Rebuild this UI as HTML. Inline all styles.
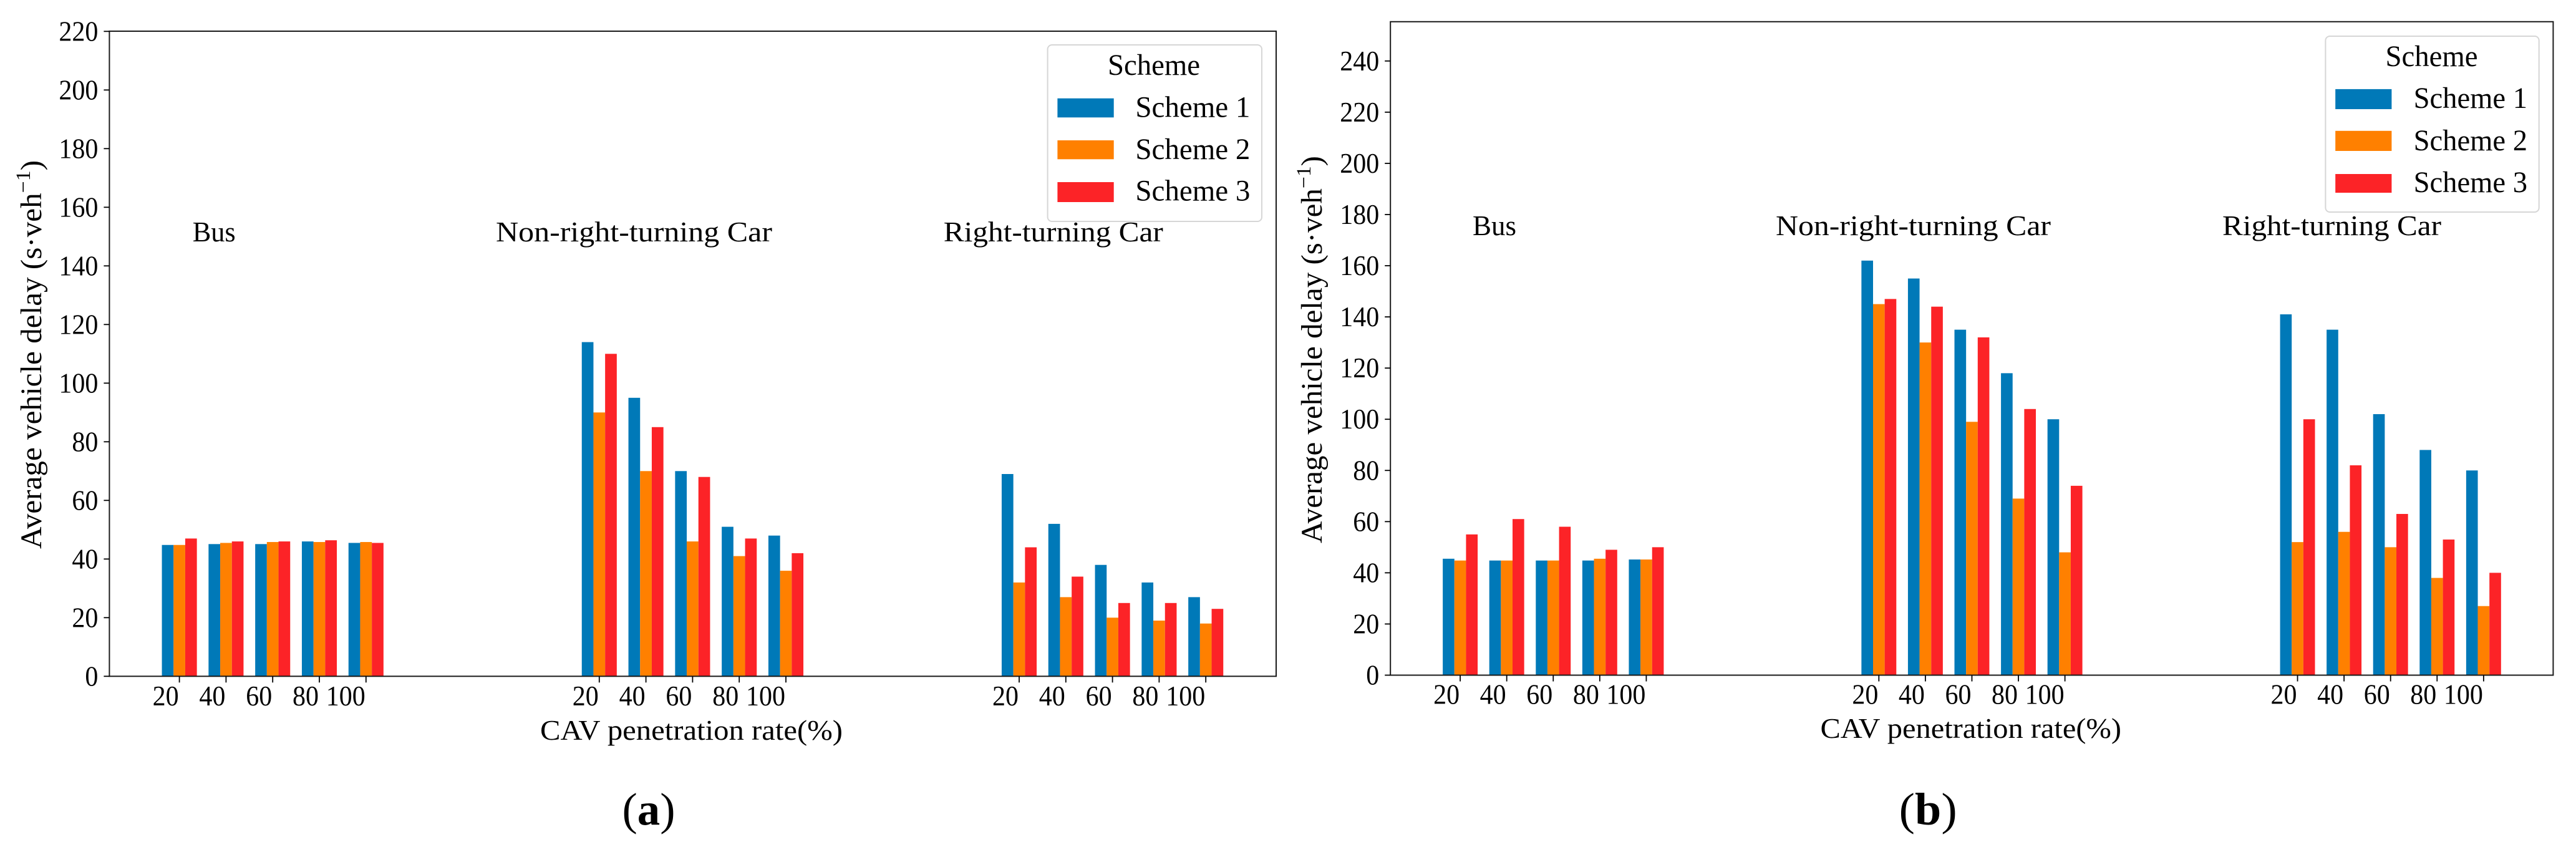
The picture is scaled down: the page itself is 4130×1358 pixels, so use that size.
<!DOCTYPE html>
<html lang="en">
<head>
<meta charset="utf-8">
<title>Average vehicle delay by scheme</title>
<style>
html,body{margin:0;padding:0;background:#fff;width:4130px;height:1358px;overflow:hidden}
svg{display:block}
text{font-family:"Liberation Serif",serif;fill:#000}
</style>
</head>
<body>
<svg id="figure" xmlns="http://www.w3.org/2000/svg" width="4130" height="1358" viewBox="0 0 4130 1358">
  <rect x="0" y="0" width="4130" height="1358" fill="#ffffff"/>

  <g id="panel-a">
    <g id="panel-a-bars"></g>
    <g id="panel-a-axes"></g>
    <text x="308.7" y="387" font-size="46" textLength="69" lengthAdjust="spacingAndGlyphs">Bus</text>
    <text x="795" y="387" font-size="46" textLength="443" lengthAdjust="spacingAndGlyphs">Non-right-turning Car</text>
    <text x="1512.8" y="387" font-size="46" textLength="352" lengthAdjust="spacingAndGlyphs">Right-turning Car</text>
    <text x="866" y="1186" font-size="46" textLength="485" lengthAdjust="spacingAndGlyphs">CAV penetration rate(%)</text>
    <text transform="translate(66 880) rotate(-90)" font-size="48" textLength="623" lengthAdjust="spacingAndGlyphs">Average vehicle delay (s·veh<tspan dy="-18" font-size="33">−1</tspan><tspan dy="18">)</tspan></text>
    <g>
      <rect x="1679.6" y="72" width="343.4" height="283" rx="7" ry="7" fill="#ffffff" fill-opacity="0.8" stroke="#d6d6d6" stroke-width="2"/>
      <text x="1850" y="120" font-size="48" text-anchor="middle" textLength="148" lengthAdjust="spacingAndGlyphs">Scheme</text>
      <rect x="1695.4" y="157.7" width="90.3" height="30.6" fill="#0079b8"/>
      <text x="1820.4" y="187.7" font-size="48" textLength="184" lengthAdjust="spacingAndGlyphs">Scheme 1</text>
      <rect x="1695.4" y="225" width="90.3" height="30.3" fill="#ff8000"/>
      <text x="1820.4" y="255" font-size="48" textLength="184" lengthAdjust="spacingAndGlyphs">Scheme 2</text>
      <rect x="1695.4" y="292" width="90.3" height="32" fill="#fc2327"/>
      <text x="1820.4" y="321.7" font-size="48" textLength="184" lengthAdjust="spacingAndGlyphs">Scheme 3</text>
    </g>
    <text x="997.5" y="1322" font-size="73" textLength="85" lengthAdjust="spacingAndGlyphs">(<tspan font-weight="bold">a</tspan>)</text>
  </g>

  <g id="panel-b">
    <g id="panel-b-bars"></g>
    <g id="panel-b-axes"></g>
    <text x="2361" y="377" font-size="46" textLength="70" lengthAdjust="spacingAndGlyphs">Bus</text>
    <text x="2847" y="377" font-size="46" textLength="441" lengthAdjust="spacingAndGlyphs">Non-right-turning Car</text>
    <text x="3563" y="377" font-size="46" textLength="351" lengthAdjust="spacingAndGlyphs">Right-turning Car</text>
    <text x="2918.5" y="1183" font-size="46" textLength="482.5" lengthAdjust="spacingAndGlyphs">CAV penetration rate(%)</text>
    <text transform="translate(2119 871) rotate(-90)" font-size="48" textLength="621" lengthAdjust="spacingAndGlyphs">Average vehicle delay (s·veh<tspan dy="-18" font-size="33">−1</tspan><tspan dy="18">)</tspan></text>
    <g>
      <rect x="3728.4" y="58" width="342.3" height="282" rx="7" ry="7" fill="#ffffff" fill-opacity="0.8" stroke="#d6d6d6" stroke-width="2"/>
      <text x="3898.5" y="106" font-size="48" text-anchor="middle" textLength="148" lengthAdjust="spacingAndGlyphs">Scheme</text>
      <rect x="3744.2" y="142.9" width="90.2" height="32.1" fill="#0079b8"/>
      <text x="3869.6" y="173" font-size="48" textLength="182.4" lengthAdjust="spacingAndGlyphs">Scheme 1</text>
      <rect x="3744.2" y="209.8" width="90.2" height="32.2" fill="#ff8000"/>
      <text x="3869.6" y="241" font-size="48" textLength="182.4" lengthAdjust="spacingAndGlyphs">Scheme 2</text>
      <rect x="3744.2" y="279" width="90.2" height="30" fill="#fc2327"/>
      <text x="3869.6" y="308" font-size="48" textLength="182.4" lengthAdjust="spacingAndGlyphs">Scheme 3</text>
    </g>
    <text x="3044.7" y="1322" font-size="73" textLength="93" lengthAdjust="spacingAndGlyphs">(<tspan font-weight="bold">b</tspan>)</text>
  </g>
</svg>

<script>
// ---- Chart data ----
var penetrationRates = ['20', '40', '60', '80', '100'];
var vehicleGroups = ['bus', 'non-right-turning-car', 'right-turning-car'];
var schemeNames = ['scheme-1', 'scheme-2', 'scheme-3'];
var schemeColors = ['#0079b8', '#ff8000', '#fc2327'];

var panelAYTicks = [0, 20, 40, 60, 80, 100, 120, 140, 160, 180, 200, 220];
var panelAScheme1 = [44.8, 45.1, 45.1, 46, 45.5, 114, 95, 70, 51, 48, 69, 52, 38, 32, 27];
var panelAScheme2 = [44.8, 45.5, 45.8, 45.8, 45.8, 90, 70, 46, 41, 36, 32, 27, 20, 19, 18];
var panelAScheme3 = [47, 46, 46, 46.4, 45.5, 110, 85, 68, 47, 42, 44, 34, 25, 25, 23];

var panelBYTicks = [0, 20, 40, 60, 80, 100, 120, 140, 160, 180, 200, 220, 240];
var panelBScheme1 = [45.5, 44.8, 44.8, 44.8, 45.2, 162, 155, 135, 118, 100, 141, 135, 102, 88, 80];
var panelBScheme2 = [44.8, 44.8, 44.8, 45.5, 45.2, 145, 130, 99, 69, 48, 52, 56, 50, 38, 27];
var panelBScheme3 = [55, 61, 58, 49, 50, 147, 144, 132, 104, 74, 100, 82, 63, 53, 40];

// ---- Layout ----
var SVG_NS = 'http://www.w3.org/2000/svg';
var GROUP_GAP = 4; // empty category slots between vehicle groups
var BAR_FRACTION = 0.25;
var TICK_FONT_SIZE = 45;
var TICK_DIGIT_WIDTH = 21;

var panelALayout = { prefix: 'panel-a', left: 175.4, right: 2046, top: 50, bottom: 1084.3, unit: 4.70, firstTick: 287.6, step: 74.8, tickLabelBaseline: 1130.8 };
var panelBLayout = { prefix: 'panel-b', left: 2229.2, right: 4093.4, top: 34.8, bottom: 1082.5, unit: 4.103, firstTick: 2341.1, step: 74.58, tickLabelBaseline: 1128.5 };

function makeScaleY(layout) {
  return function (value) { return layout.bottom - value * layout.unit; };
}
function makeScaleX(layout) {
  return function (groupIndex, rateIndex) {
    var slot = groupIndex * (penetrationRates.length + GROUP_GAP) + rateIndex;
    return layout.firstTick + slot * layout.step;
  };
}
function svgEl(tag) {
  return document.createElementNS(SVG_NS, tag);
}
function setLine(line, x1, y1, x2, y2, width) {
  line.setAttribute('x1', x1);
  line.setAttribute('y1', y1);
  line.setAttribute('x2', x2);
  line.setAttribute('y2', y2);
  line.setAttribute('stroke', '#000000');
  line.setAttribute('stroke-width', width);
}
function styleTickLabel(label, text) {
  label.setAttribute('font-size', TICK_FONT_SIZE);
  label.setAttribute('text-anchor', 'end');
  label.setAttribute('textLength', text.length * TICK_DIGIT_WIDTH);
  label.setAttribute('lengthAdjust', 'spacingAndGlyphs');
  label.textContent = text;
}

function drawBars(layout, seriesList) {
  var host = document.getElementById(layout.prefix + '-bars');
  var scaleX = makeScaleX(layout);
  var scaleY = makeScaleY(layout);
  var barWidth = layout.step * BAR_FRACTION;
  seriesList.forEach(function (values, seriesIndex) {
    values.forEach(function (value, i) {
      var groupIndex = Math.floor(i / penetrationRates.length);
      var rateIndex = i % penetrationRates.length;
      var center = scaleX(groupIndex, rateIndex);
      var bar = svgEl('rect');
      
      
      bar.setAttribute('x', center + (seriesIndex - 1.5) * barWidth);
      bar.setAttribute('y', scaleY(value));
      bar.setAttribute('width', barWidth);
      bar.setAttribute('height', layout.bottom - scaleY(value));
      bar.setAttribute('fill', schemeColors[seriesIndex]);
      host.appendChild(bar);
    });
  });
}

function drawAxes(layout, yTicks) {
  var host = document.getElementById(layout.prefix + '-axes');
  var scaleX = makeScaleX(layout);
  var scaleY = makeScaleY(layout);

  var frame = svgEl('rect');
  
  
  frame.setAttribute('x', layout.left);
  frame.setAttribute('y', layout.top);
  frame.setAttribute('width', layout.right - layout.left);
  frame.setAttribute('height', layout.bottom - layout.top);
  frame.setAttribute('fill', 'none');
  frame.setAttribute('stroke', '#1a1a1a');
  frame.setAttribute('stroke-width', '2');
  host.appendChild(frame);

  yTicks.forEach(function (tick) {
    var y = scaleY(tick);
    var mark = svgEl('line');
    
    
    setLine(mark, layout.left - 9, y, layout.left, y, 1.8);
    host.appendChild(mark);

    var label = svgEl('text');
    
    
    label.setAttribute('x', layout.left - 18);
    label.setAttribute('y', y + 15);
    styleTickLabel(label, String(tick));
    host.appendChild(label);
  });

  vehicleGroups.forEach(function (group, groupIndex) {
    penetrationRates.forEach(function (rate, rateIndex) {
      var x = scaleX(groupIndex, rateIndex);
      var mark = svgEl('line');
      
      
      setLine(mark, x, layout.bottom, x, layout.bottom + 10, 1.8);
      host.appendChild(mark);

      var label = svgEl('text');
      
      
      label.setAttribute('x', x - 1);
      label.setAttribute('y', layout.tickLabelBaseline);
      styleTickLabel(label, rate);
      host.appendChild(label);
    });
  });
}

drawBars(panelALayout, [panelAScheme1, panelAScheme2, panelAScheme3]);
drawAxes(panelALayout, panelAYTicks);
drawBars(panelBLayout, [panelBScheme1, panelBScheme2, panelBScheme3]);
drawAxes(panelBLayout, panelBYTicks);
</script>
</body>
</html>
